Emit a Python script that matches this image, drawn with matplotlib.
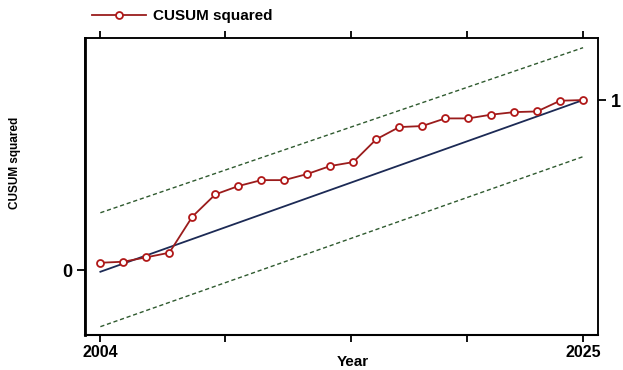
import matplotlib.pyplot as plt

plt.rcParams['font.family'] = ['Liberation Sans', 'DejaVu Sans']
plt.rcParams['font.weight'] = 'bold'

years = list(range(2004, 2026))
cusum_sq = [0.043, 0.049, 0.075, 0.102, 0.314, 0.445, 0.494, 0.529, 0.529, 0.565,
            0.612, 0.635, 0.769, 0.841, 0.847, 0.892, 0.892, 0.914, 0.929, 0.933,
            0.996, 1.0]
line_x = [2004, 2025]
line_mid = [-0.01, 1.0]
line_upper = [0.337, 1.308]
line_lower = [-0.333, 0.667]

tick_pos = [2004, 2009.4, 2014.9, 2019.95, 2025]
tick_lab = ['2004', '', '', '', '2025']

fig = plt.figure(figsize=(6.23, 3.70), dpi=100)
ax = fig.add_axes([0.1364, 0.0946, 0.8235, 0.8027])

ax.plot(line_x, line_upper, '--', color='#2f5a2f', lw=1.0, dashes=(3, 2))
ax.plot(line_x, line_lower, '--', color='#2f5a2f', lw=1.0, dashes=(3, 2))
ax.plot(line_x, line_mid, color='#1c2a55', lw=1.3)
ax.plot(years, cusum_sq, color='#9a1c1c', lw=1.3, marker='o', ms=5,
        mfc='white', mec='#b01818', mew=1.3, label='CUSUM squared')

ax.set_xlim(2003.33, 2025.65)
ax.set_ylim(-0.382, 1.365)

ax.set_xticks(tick_pos)
ax.set_xticklabels(tick_lab)
ax.tick_params(axis='x', which='both', top=True, direction='out', length=5,
               width=1.3, labelsize=11.5, pad=2)
ax.set_yticks([0])
ax.set_yticklabels(['0'])
ax.tick_params(axis='y', direction='out', length=6, width=1.3, labelsize=13, pad=3)

ax2 = ax.twinx()
ax2.set_ylim(ax.get_ylim())
ax2.set_yticks([1])
ax2.set_yticklabels(['1'])
ax2.tick_params(axis='y', direction='out', length=6, width=1.3, labelsize=13, pad=3)

for a in (ax, ax2):
    for s in a.spines.values():
        s.set_color('black')
        s.set_linewidth(1.1)
ax.spines['left'].set_linewidth(2.0)
ax.spines['bottom'].set_linewidth(1.5)

ax.set_xlabel('Year', fontsize=11, fontweight='bold')
ax.xaxis.set_label_coords(0.522, -0.068)
ax.set_ylabel('CUSUM squared', fontsize=8.5, fontweight='bold')
ax.yaxis.set_label_coords(-0.125, 0.58)

fig.legend(loc='center left', bbox_to_anchor=(0.148, 0.956), frameon=False,
           handlelength=3.5, handletextpad=0.5, borderaxespad=0, borderpad=0,
           prop={'weight': 'bold', 'size': 11})

fig.savefig('out.png', dpi=100)
